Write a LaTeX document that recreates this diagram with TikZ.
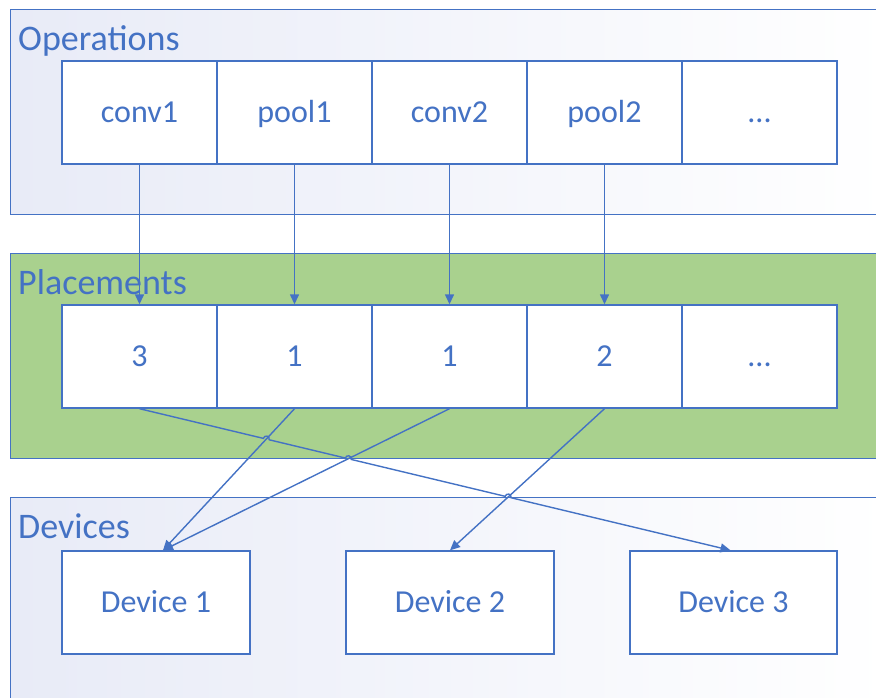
\documentclass[tikz,border=0pt]{standalone}
\usepackage{fontspec}
\setmainfont{Carlito}
\usetikzlibrary{arrows.meta,calc,intersections}
\definecolor{acc}{HTML}{4472C4}
\definecolor{grn}{HTML}{A9D18E}
\definecolor{lav}{RGB}{232,235,247}
\begin{document}
\begin{tikzpicture}[x=1pt,y=1pt,
  cell/.style={draw=acc, line width=1.4pt, fill=white, text=acc,
    font=\fontsize{32}{36}\selectfont, inner sep=0pt, minimum height=103pt,
    text height=20.5pt, text depth=0pt},
  opcell/.style={cell, minimum width=155pt},
  grp/.style={draw=acc, line width=1.4pt, anchor=north west, inner sep=0pt},
  grptitle/.style={text=acc, font=\fontsize{36}{40}\selectfont, anchor=base west, inner sep=0pt},
  arr/.style={draw=acc, line width=1.4pt, -{Triangle[length=10pt,width=9pt]}},
]
\useasboundingbox (0,0) rectangle (876,-697);
\clip (0,0) rectangle (876,-697);

% containers
\node[grp, left color=lav, right color=white, minimum width=880pt, minimum height=205pt] (ops) at (10,-9) {};
\node[grp, fill=grn, minimum width=880pt, minimum height=205pt] (pls) at (10,-253) {};
\node[grp, left color=lav, right color=white, minimum width=880pt, minimum height=230pt] (devs) at (10,-497) {};

\node[grptitle] (tops) at (18,-50) {Operations};
\node[grptitle] (tpls) at (18,-294) {Placements};
\node[grptitle] (tdevs) at (18,-538) {Devices};

% operations
\node[opcell] (op1) at (139.5,-112.5) {conv1};
\node[opcell] (op2) at (294.5,-112.5) {pool1};
\node[opcell] (op3) at (449.5,-112.5) {conv2};
\node[opcell] (op4) at (604.5,-112.5) {pool2};
\node[opcell] (op5) at (759.5,-112.5) {...};

% placements
\node[opcell] (pl1) at (139.5,-356.5) {3};
\node[opcell] (pl2) at (294.5,-356.5) {1};
\node[opcell] (pl3) at (449.5,-356.5) {1};
\node[opcell] (pl4) at (604.5,-356.5) {2};
\node[opcell] (pl5) at (759.5,-356.5) {...};

% devices
\node[cell, minimum width=188pt] (dev1) at (156,-602.5) {Device 1};
\node[cell, minimum width=208pt] (dev2) at (450,-602.5) {Device 2};
\node[cell, minimum width=207pt] (dev3) at (733.5,-602.5) {Device 3};

\coordinate (d1t) at ([xshift=7pt]dev1.north);
\coordinate (d3t) at ([xshift=-3pt]dev3.north);

% ops -> placements
\draw[arr] (op1.south) -- (pl1.north);
\draw[arr] (op2.south) -- (pl2.north);
\draw[arr] (op3.south) -- (pl3.north);
\draw[arr] (op4.south) -- (pl4.north);

% placements -> devices
\path[name path=L1] (pl1.south) -- (d3t);
\path[name path=L2] (pl2.south) -- (d1t);
\path[name path=L3] (pl3.south) -- (d1t);
\path[name path=L4] (pl4.south) -- (dev2.north);
\path[name intersections={of=L1 and L2, by=X1}];
\path[name intersections={of=L1 and L3, by=X2}];
\path[name intersections={of=L1 and L4, by=X3}];

\draw[arr] (pl2.south) -- (d1t);
\draw[arr] (pl3.south) -- (d1t);
\draw[arr] (pl4.south) -- (dev2.north);
\draw[arr] (pl1.south)
  -- ($(X1)!3pt!(pl1.south)$) arc[start angle=166.5, end angle=-13.5, radius=3pt]
  -- ($(X2)!3pt!(pl1.south)$) arc[start angle=166.5, end angle=-13.5, radius=3pt]
  -- ($(X3)!3pt!(pl1.south)$) arc[start angle=166.5, end angle=-13.5, radius=3pt]
  -- (d3t);
\end{tikzpicture}
\end{document}
